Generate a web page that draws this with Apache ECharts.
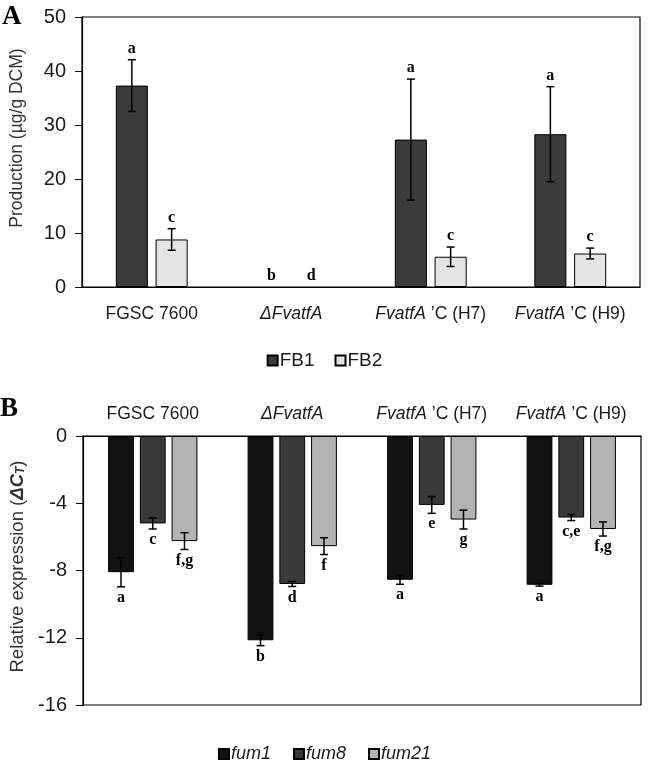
<!DOCTYPE html>
<html><head><meta charset="utf-8">
<script src="https://cdn.jsdelivr.net/npm/echarts@6/dist/echarts.min.js"></script>
<style>html,body{margin:0;padding:0;background:#fff}#c{width:649px;height:762px}</style>
</head><body><div id="c"></div>
<script>
// ---- Data ----
const categories = ['FGSC 7600', 'ΔFvatfA', 'FvatfA ’C (H7)', 'FvatfA ’C (H9)'];
// Panel A: production (µg/g DCM)
const fb1 = [37.3, 0, 27.3, 28.3];
const fb1Err = [4.8, 0, 11.2, 8.8];
const fb1Letters = ['a', 'b', 'a', 'a'];
const fb2 = [8.8, 0, 5.6, 6.2];
const fb2Err = [2.0, 0, 1.8, 1.0];
const fb2Letters = ['c', 'd', 'c', 'c'];
const yTicksA = [0, 10, 20, 30, 40, 50];
// Panel B: relative expression (ΔCT)
const fum1 = [-8.1, -12.15, -8.55, -8.85];
const fum1Err = [0.87, 0.32, 0.27, 0.08];
const fum1Letters = ['a', 'b', 'a', 'a'];
const fum8 = [-5.2, -8.8, -4.1, -4.85];
const fum8Err = [0.33, 0.15, 0.5, 0.18];
const fum8Letters = ['c', 'd', 'e', 'c,e'];
const fum21 = [-6.25, -6.55, -4.97, -5.53];
const fum21Err = [0.5, 0.5, 0.56, 0.42];
const fum21Letters = ['f,g', 'f', 'g', 'f,g'];
const yTicksB = [-16, -12, -8, -4, 0];

const SANS = 'Liberation Sans, Arial, sans-serif';
const SERIF = 'Liberation Serif, Times New Roman, serif';

function catFormatter(v) {
  if (v === 'FGSC 7600') return '{n|FGSC 7600}';
  if (v === 'ΔFvatfA') return '{i|ΔFvatfA}';
  const m = v.match(/^(FvatfA)( ’C .*)$/);
  if (m) return '{i|' + m[1] + '}{n|' + m[2] + '}';
  return v;
}
const catRich = {
  n: { fontFamily: SANS, fontSize: 17.5, color: '#1a1a1a' },
  i: { fontFamily: SANS, fontSize: 17.5, fontStyle: 'italic', color: '#1a1a1a' }
};

function errRender(n, idx, wFrac, gFrac, errArr, letters, dir) {
  return function (params, api) {
    const cat = api.value(0);
    const v = api.value(1);
    const e = errArr[params.dataIndex];
    const band = api.size([1, 0])[0];
    const w = band * wFrac, g = w * gFrac;
    const total = n * w + (n - 1) * g;
    const cx = api.coord([cat, 0])[0] - total / 2 + w / 2 + idx * (w + g);
    const yTop = api.coord([cat, v + e])[1];
    const yBot = api.coord([cat, v - e])[1];
    const cap = 4;
    const children = [];
    const ls = { stroke: '#000', lineWidth: 1.5 };
    if (e > 0) {
      children.push({ type: 'line', shape: { x1: cx, y1: yTop, x2: cx, y2: yBot }, style: ls });
      children.push({ type: 'line', shape: { x1: cx - cap, y1: yTop, x2: cx + cap, y2: yTop }, style: ls });
      children.push({ type: 'line', shape: { x1: cx - cap, y1: yBot, x2: cx + cap, y2: yBot }, style: ls });
    }
    const lt = letters[params.dataIndex];
    if (dir === 'up') {
      children.push({ type: 'text', style: { text: lt, x: cx, y: yTop - 3, align: 'center', verticalAlign: 'bottom',
        font: 'bold 16px ' + SERIF, fill: '#000' } });
    } else {
      children.push({ type: 'text', style: { text: lt, x: cx, y: yBot + 3, align: 'center', verticalAlign: 'top',
        font: 'bold 16px ' + SERIF, fill: '#000' } });
    }
    return { type: 'group', children: children };
  };
}

const wA = 0.23, gA = 0.24;
const wB = 0.185, gB = 0.23;

const barStyle = (c) => ({ color: c, borderColor: '#000', borderWidth: 1 });
const barData = (arr) => arr.map(v => v === 0 ? { value: 0, itemStyle: { borderWidth: 0, opacity: 0 } } : v);

const option = {
  animation: false,
  backgroundColor: '#fff',
  graphic: [
    { type: 'text', left: 2, top: 4, style: { text: 'A', font: 'bold 27px ' + SERIF, fill: '#000' } },
    { type: 'text', left: 0, top: 396, style: { text: 'B', font: 'bold 27px ' + SERIF, fill: '#000' } }
  ],
  legend: [
    { data: ['FB1', 'FB2'], top: 346, left: 'center', itemWidth: 10, itemHeight: 10, itemGap: 20,
      icon: 'rect', textStyle: { fontFamily: SANS, fontSize: 19, color: '#1a1a1a', padding: [0, 0, 0, -3] } },
    { data: ['fum1', 'fum8', 'fum21'], top: 740, left: 'center', itemWidth: 10, itemHeight: 10, itemGap: 22,
      icon: 'rect', textStyle: { fontFamily: SANS, fontSize: 18, fontStyle: 'italic', color: '#1a1a1a', padding: [0, 0, 0, -3] } }
  ],
  grid: [
    { left: 82, right: 9, top: 17, height: 270, show: true, borderColor: '#000', borderWidth: 1.2, backgroundColor: 'transparent' },
    { left: 82, right: 8, top: 436, height: 269, show: true, borderColor: '#000', borderWidth: 1.2, backgroundColor: 'transparent' }
  ],
  xAxis: [
    { type: 'category', gridIndex: 0, data: categories, position: 'bottom',
      axisLine: { lineStyle: { color: '#000', width: 1.2 } }, axisTick: { show: false },
      axisLabel: { margin: 18, formatter: catFormatter, rich: catRich, interval: 0 } },
    { type: 'category', gridIndex: 1, data: categories, position: 'top',
      axisLine: { onZero: false, lineStyle: { color: '#000', width: 1.2 } }, axisTick: { show: false },
      axisLabel: { margin: 13, formatter: catFormatter, rich: catRich, interval: 0 } }
  ],
  yAxis: [
    { type: 'value', gridIndex: 0, min: yTicksA[0], max: yTicksA[yTicksA.length - 1], interval: 10,
      splitLine: { show: false },
      axisLine: { show: true, lineStyle: { color: '#000', width: 1.2 } },
      axisTick: { show: true, length: 7, lineStyle: { color: '#000' } },
      axisLabel: { fontFamily: SANS, fontSize: 20, color: '#1a1a1a', margin: 16 },
      name: 'Production (µg/g DCM)', nameLocation: 'middle', nameGap: 56, nameRotate: 90,
      nameTextStyle: { fontFamily: SANS, fontSize: 17.5, color: '#333', padding: [0, 0, 0, 28] } },
    { type: 'value', gridIndex: 1, min: yTicksB[0], max: yTicksB[yTicksB.length - 1], interval: 4,
      splitLine: { show: false },
      axisLine: { show: true, lineStyle: { color: '#000', width: 1.2 } },
      axisTick: { show: true, length: 7, lineStyle: { color: '#000' } },
      axisLabel: { fontFamily: SANS, fontSize: 20, color: '#1a1a1a', margin: 16 },
      name: '{n|Relative expression (}{b|ΔC}{s|T}{n|)}', nameLocation: 'middle', nameGap: 56, nameRotate: 90,
      nameTextStyle: { fontFamily: SANS, fontSize: 18.5, color: '#333', padding: [0, 0, 0, 8],
        rich: {
          n: { fontFamily: SANS, fontSize: 18.5, color: '#333' },
          b: { fontFamily: SANS, fontSize: 18.5, color: '#333', fontWeight: 'bold', fontStyle: 'italic' },
          s: { fontFamily: SANS, fontSize: 12, color: '#333', fontWeight: 'bold', fontStyle: 'italic', verticalAlign: 'bottom', padding: [7, 0, 0, 0] }
        } } }
  ],
  series: [
    { name: 'FB1', type: 'bar', xAxisIndex: 0, yAxisIndex: 0, data: barData(fb1), barWidth: (wA * 100) + '%', barGap: (gA * 100) + '%',
      itemStyle: barStyle('#3b3b3b') },
    { name: 'FB2', type: 'bar', xAxisIndex: 0, yAxisIndex: 0, data: barData(fb2), barWidth: (wA * 100) + '%', barGap: (gA * 100) + '%',
      itemStyle: barStyle('#e4e4e4') },
    { type: 'custom', xAxisIndex: 0, yAxisIndex: 0, data: fb1.map((v, i) => [i, v]), z: 5,
      renderItem: errRender(2, 0, wA, gA, fb1Err, fb1Letters, 'up') },
    { type: 'custom', xAxisIndex: 0, yAxisIndex: 0, data: fb2.map((v, i) => [i, v]), z: 5,
      renderItem: errRender(2, 1, wA, gA, fb2Err, fb2Letters, 'up') },

    { name: 'fum1', type: 'bar', xAxisIndex: 1, yAxisIndex: 1, data: fum1, barWidth: (wB * 100) + '%', barGap: (gB * 100) + '%',
      itemStyle: barStyle('#121212') },
    { name: 'fum8', type: 'bar', xAxisIndex: 1, yAxisIndex: 1, data: fum8, barWidth: (wB * 100) + '%', barGap: (gB * 100) + '%',
      itemStyle: barStyle('#3a3a3a') },
    { name: 'fum21', type: 'bar', xAxisIndex: 1, yAxisIndex: 1, data: fum21, barWidth: (wB * 100) + '%', barGap: (gB * 100) + '%',
      itemStyle: barStyle('#b3b3b3') },
    { type: 'custom', xAxisIndex: 1, yAxisIndex: 1, data: fum1.map((v, i) => [i, v]), z: 5,
      renderItem: errRender(3, 0, wB, gB, fum1Err, fum1Letters, 'down') },
    { type: 'custom', xAxisIndex: 1, yAxisIndex: 1, data: fum8.map((v, i) => [i, v]), z: 5,
      renderItem: errRender(3, 1, wB, gB, fum8Err, fum8Letters, 'down') },
    { type: 'custom', xAxisIndex: 1, yAxisIndex: 1, data: fum21.map((v, i) => [i, v]), z: 5,
      renderItem: errRender(3, 2, wB, gB, fum21Err, fum21Letters, 'down') }
  ]
};
const chart = echarts.init(document.getElementById('c'), null, { renderer: 'canvas' });
chart.setOption(option);
</script>
</body></html>
